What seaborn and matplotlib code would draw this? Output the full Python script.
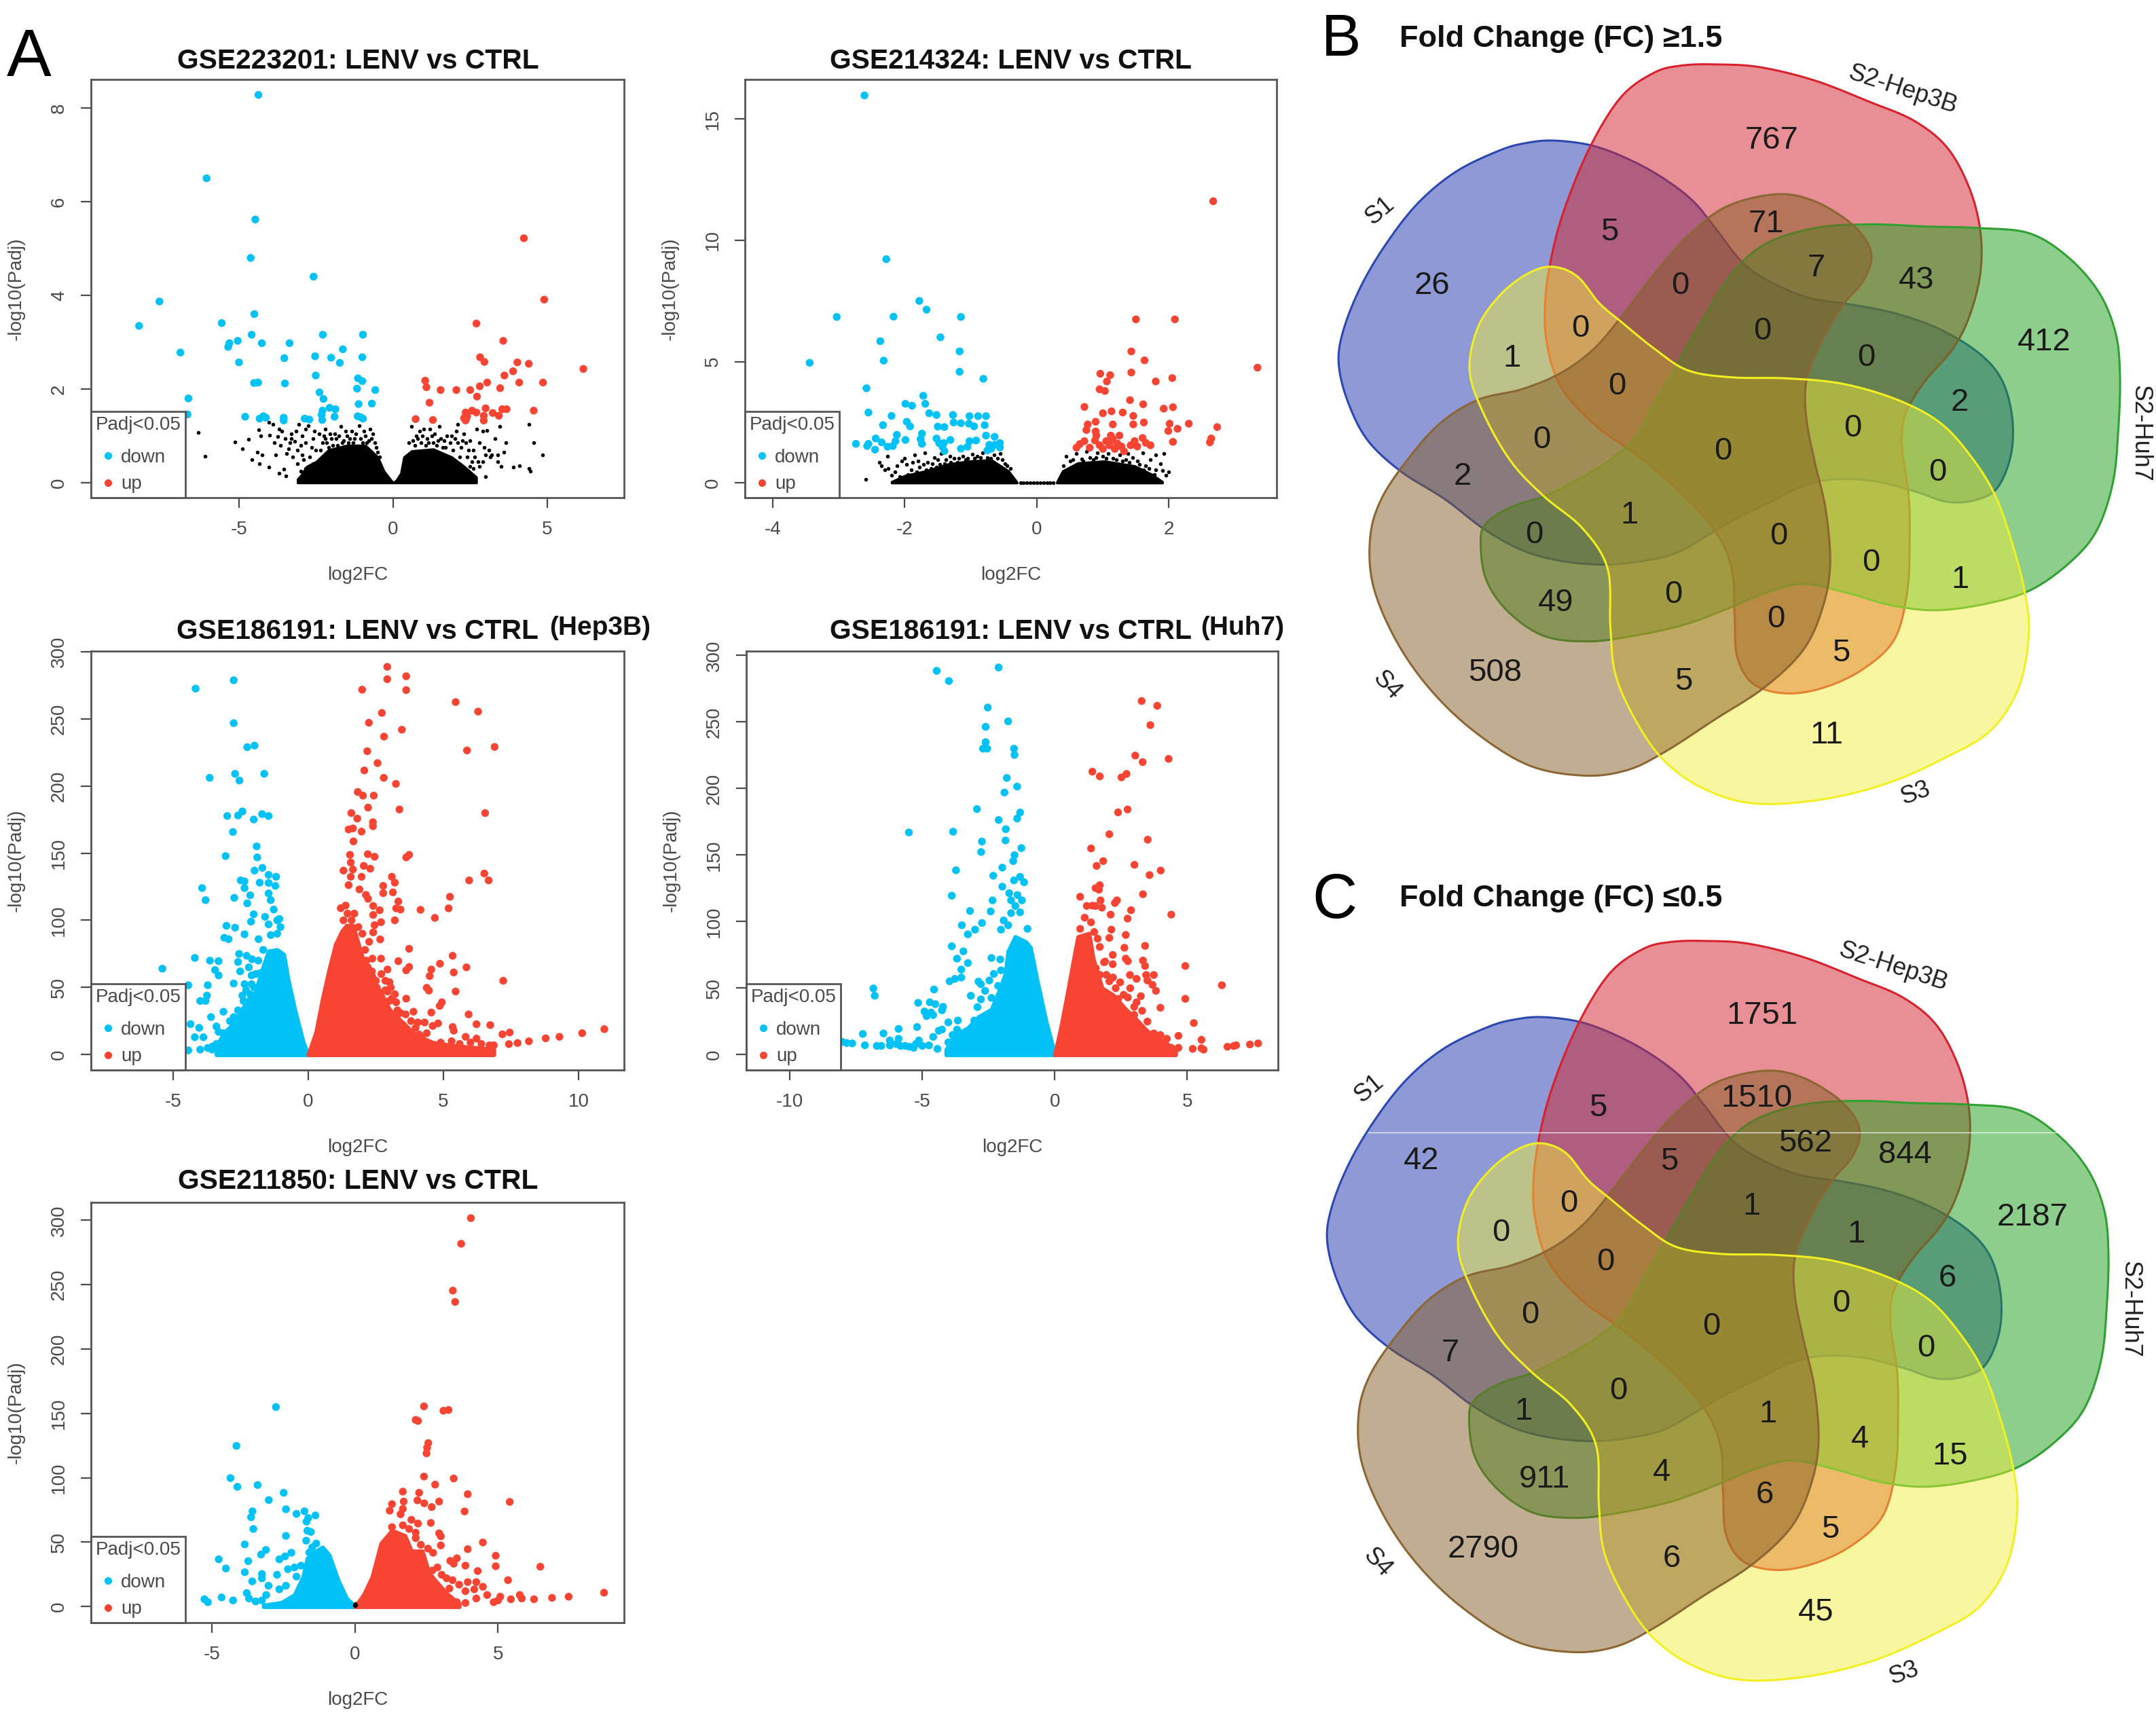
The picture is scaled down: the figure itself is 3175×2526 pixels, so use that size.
import numpy as np
import pandas as pd
import matplotlib
matplotlib.use("Agg")
import matplotlib.pyplot as plt
from matplotlib.lines import Line2D
import seaborn as sns

W, H = 3175, 2526
sns.set_theme(style="white")
plt.rcParams["font.family"] = ["Liberation Sans", "DejaVu Sans"]
plt.rcParams["axes.unicode_minus"] = False

BLUE, RED, BLACK = "#00C2F7", "#F84433", "#000000"
GREY = "#4a4a4a"

# ---------- Panel A data: (log2FC, -log10 Padj) ----------
P1_DOWN = [(-4.37,8.28),(-6.05,6.5),(-4.47,5.62),(-4.62,4.8),(-2.58,4.4),(-7.58,3.87),(-8.24,3.35),(-4.5,3.6),(-5.56,3.41),(-4.59,3.16),(-2.28,3.16),(-0.98,3.16),(-5.04,3.03),(-5.31,2.98),(-5.35,2.9),(-4.26,2.98),(-3.36,2.98),(-1.63,2.85),(-6.9,2.78),(-2.53,2.7),(-3.53,2.66),(-2.01,2.67),(-1.0,2.68),(-1.73,2.56),(-5.0,2.57),(-2.51,2.29),(-4.51,2.13),(-4.38,2.14),(-3.51,2.12),(-1.14,2.23),(-1.0,2.17),(-1.17,2.01),(-0.58,1.98),(-2.39,1.93),(-2.26,1.79),(-6.64,1.8),(-0.69,1.69),(-1.12,1.68),(-6.67,1.46),(-2.06,1.6),(-2.29,1.54),(-1.87,1.57),(-2.32,1.45),(-1.9,1.41),(-4.8,1.41),(-4.21,1.42),(-4.33,1.37),(-4.13,1.39),(-3.55,1.39),(-3.55,1.33),(-2.87,1.37),(-2.72,1.35),(-2.3,1.34),(-1.15,1.42),(-0.98,1.37),(-1.05,1.4)]
P1_UP = [(4.24,5.22),(4.9,3.91),(2.7,3.4),(3.57,3.03),(2.82,2.68),(2.96,2.58),(6.17,2.43),(4.03,2.57),(4.4,2.54),(3.89,2.38),(3.61,2.29),(1.04,2.18),(1.08,2.04),(3.05,2.14),(2.81,2.06),(4.09,2.14),(4.86,2.14),(3.47,2.02),(1.54,1.98),(2.05,1.98),(2.5,1.98),(2.72,1.84),(1.18,1.71),(3.0,1.59),(3.54,1.57),(3.68,1.57),(4.56,1.54),(2.56,1.54),(2.35,1.5),(2.7,1.5),(3.23,1.49),(3.43,1.43),(2.94,1.43),(2.37,1.37),(2.35,1.33),(1.29,1.34),(0.73,1.36),(2.94,1.33),(2.4,1.42),(2.3,1.38)]
P1_NS = [(-6.32,1.07),(-6.1,.57),(-5.13,.87),(-4.89,.73),(-4.68,.93),(-4.35,1.13),(-4.3,1.0),(-4.04,1.29),(-3.9,1.25),(-4.4,.65),(-4.25,.6),(-4.58,.49),(-4.33,.41),(-4.04,.33),(-3.69,.21),(-3.55,.29),(-3.48,.14),(-4.0,1.02),(-3.85,.85),(-3.7,1.15),(-3.65,.8),(-3.5,.95),(-3.4,.72),(-3.3,1.05),(-3.2,.88),(-3.1,.7),(-3.05,1.25),(-2.95,1.0),(-2.85,.85),(-2.75,1.22),(-2.7,.55),(-2.6,.95),(-2.5,.7),(-2.4,1.05),(-2.3,.85),(-2.2,1.15),(-2.1,.75),(-2.0,.95),(-1.9,1.05),(-1.8,.8),(-1.6,.9),(-1.5,1.0),(-1.35,1.1),(-1.25,.95),(-1.1,1.22),(-0.95,1.1),(-0.8,.9),(-0.75,1.15),(-3.1,.4),(-3,.25),(-2.85,.3),(-2.75,.15),(-3.25,.55),(-3.45,.62),(-3.8,.6),(-2.45,.45),(-2.95,.6),(-2.6,.4),(-1.7,1.2),(-1.45,.85),(-1.05,.95),(-0.7,.95),(-0.6,.85),(-2.2,.95),(-3.6,1.1),(-2.85,1.15),(-3.35,.85),(-3.75,.98),
 (-3.3,.95),(-3.15,1.1),(-3.0,.8),(-2.9,.5),(-2.65,.75),(-2.55,1.1),(-2.35,.7),(-2.25,1.0),(-2.15,.85),(-2.05,1.05),(-1.95,.8),(-1.85,.95),(-1.75,1.0),(-1.65,.85),(-1.55,1.1),(-1.4,.95),(-1.3,.85),(-1.2,1.05),(-1.0,.85),(-.9,1.0),(-.85,.85),(-.65,1.05),(-.55,.75),(-.5,.65),(-.45,.55),
 (.6,1.2),(.75,1.0),(.9,.85),(1,1.15),(1.1,.95),(1.25,1.0),(1.4,.8),(1.5,1.2),(1.6,.75),(1.75,1.0),(1.85,.85),(2,.95),(2.1,1.25),(2.2,.75),(2.3,1.05),(2.4,.55),(2.5,.9),(2.6,.7),(2.7,1.15),(2.8,.85),(2.9,1.1),(3,.6),(3.05,1.12),(3.1,.7),(3.2,.6),(3.3,.95),(3.4,.45),(3.5,.35),(3.6,.65),(3.65,.85),(3.45,1.2),(3.9,.33),(4.1,.37),(4.4,1.25),(4.55,.85),(4.85,.6),(4.4,.3),(4.45,.25),(3.0,.13),(2.6,.3),(2.8,.35),(2.3,.3),(.7,.8),(.85,1.1),(1.3,.85),(1.55,.95),(1.95,.7),(2.15,.55),(2.55,.45),(2.9,.45),(3.15,.55),(2.05,1.1),(1.2,1.15),(3.4,.6),(2.35,.85),
 (.5,.85),(.65,.9),(.8,.95),(.95,1.0),(1.05,.8),(1.15,.85),(1.35,1.05),(1.45,.9),(1.65,.9),(1.7,.75),(1.9,1.0),(2.1,.85),(2.25,.9),(2.45,.7),(2.65,.55),(2.75,.45),(2.95,.75),(2.5,.35)]
P1_MASS_L_X = [-3.1,-3,-2.8,-2.5,-2.1,-1.5,-.9,-.5,-.3,-.1,0]
P1_MASS_L_Y = [.08,.15,.35,.45,.7,.8,.8,.55,.25,.08,0]
P1_MASS_R_X = [0,.1,.25,.35,.6,1.3,1.9,2.3,2.7]
P1_MASS_R_Y = [0,.05,.2,.55,.68,.72,.55,.35,.12]

P2_DOWN = [(-2.61,15.97),(-2.28,9.22),(-1.78,7.5),(-1.67,7.14),(-3.03,6.84),(-2.17,6.85),(-1.15,6.84),(-1.46,6.0),(-2.37,5.84),(-1.17,5.42),(-2.32,5.04),(-3.44,4.95),(-1.17,4.58),(-.81,4.29),(-2.58,3.9),(-1.72,3.59),(-1.69,3.26),(-1.99,3.26),(-1.89,3.18),(-2.55,2.9),(-1.63,2.87),(-1.52,2.8),(-1.27,2.8),(-2.2,2.76),(-1.02,2.75),(-.89,2.75),(-.77,2.75),(-1.26,2.49),(-1.15,2.46),(-1.97,2.52),(-1.92,2.33),(-2.33,2.38),(-1.03,2.44),(-.95,2.33),(-.79,2.38),(-1.5,2.32),(-1.4,2.3),(-1.74,2.03),(-2.12,1.98),(-2.14,1.72),(-1.99,1.77),(-1.76,1.8),(-1.74,1.61),(-2.44,1.83),(-2.35,1.67),(-2.74,1.61),(-2.55,1.61),(-2.57,1.52),(-2.45,1.37),(-2.26,1.49),(-2.18,1.52),(-1.52,1.83),(-1.48,1.64),(-1.41,1.64),(-1.43,1.49),(-1.31,1.77),(-1.4,1.31),(-1.15,1.41),(-1.05,1.49),(-1.02,1.72),(-.92,1.75),(-.77,1.95),(-.64,1.9),(-.72,1.57),(-.69,1.41),(-.75,1.34),(-.56,1.64),(-.56,1.46),(-.64,1.57)]
P2_UP = [(2.67,11.61),(1.5,6.74),(2.09,6.74),(1.43,5.42),(1.63,5.05),(3.34,4.75),(.96,4.5),(1.11,4.44),(1.43,4.55),(2.05,4.32),(1.06,4.18),(1.8,4.18),(.95,3.86),(1.03,3.79),(1.41,3.41),(1.61,3.24),(.72,3.13),(1.92,3.06),(2.06,3.12),(1.13,2.95),(1.0,2.87),(1.3,2.9),(1.46,2.76),(.89,2.52),(.77,2.41),(1.15,2.41),(1.46,2.41),(1.62,2.49),(2.3,2.44),(2.01,2.44),(2.73,2.3),(2.13,2.23),(1.99,2.14),(.75,2.18),(.89,2.12),(.9,1.95),(1.12,1.95),(1.25,1.95),(2.64,1.83),(2.62,1.67),(2.06,1.69),(.6,1.45),(.65,1.6),(.72,1.72),(.8,1.45),(.88,1.75),(.95,1.55),(1.0,1.4),(1.05,1.72),(1.1,1.55),(1.15,1.8),(1.18,1.4),(1.22,1.62),(1.28,1.5),(1.32,1.3),(1.42,1.55),(1.48,1.72),(1.52,1.5),(1.6,1.85),(1.65,1.65),(1.72,1.55)]
P2_NS = [(-2.59,.15),(-2.38,.85),(-2.35,.7),(-2.3,.55),(-2.25,.6),(-2.26,1.1),(-2.2,.3),(-2.12,.7),(-2.05,.9),(-2.0,1.0),(-1.97,.75),(-1.9,.55),(-1.85,1.15),(-1.8,.9),(-1.78,.65),(-1.7,1.25),(-1.65,.85),(-1.6,.6),(-1.55,1.05),(-1.5,.95),(-1.45,1.2),(-1.4,.8),(-1.32,1.1),(-1.25,1.0),(-1.2,.85),(-1.12,1.1),(-1.05,1.0),(-.98,1.18),(-.9,1.1),(-.82,1.25),(-.75,1.05),(-.65,1.15),(-.55,1.2),(-.52,.95),(-.48,.8),(-.4,.6),
 (-2.15,.45),(-2.08,.25),(-1.95,.35),(-1.88,.85),(-1.82,.45),(-1.72,.75),(-1.68,.55),(-1.58,.8),(-1.52,.65),(-1.47,.75),(-1.38,.95),(-1.3,.85),(-1.18,1.0),(-1.08,.95),(-.95,1.02),(-.85,1.05),(-.7,1.02),(-.6,1.0),(-.45,.7),
 (-.25,0),(-.2,0),(-.15,0),(-.1,0),(-.05,0),(0,0),(.05,0),(.1,0),(.15,0),(.2,0),(.25,0),
 (.44,1.1),(.5,.9),(.6,1.2),(.68,.98),(.75,1.3),(.8,1.05),(.85,.95),(.92,1.25),(1.0,1.1),(1.08,1.2),(1.15,1.0),(1.25,1.15),(1.3,.9),(1.38,1.22),(1.45,1.05),(1.52,.9),(1.6,1.25),(1.65,.7),(1.72,.95),(1.8,1.15),(1.87,.8),(1.9,.5),(1.95,.3),(2.0,.45),(1.85,.1),(1.78,.35),(1.92,1.22),
 (.4,.7),(.55,.95),(.7,.9),(.9,1.05),(1.05,1.0),(1.2,.95),(1.35,.95),(1.4,.85),(1.55,.75),(1.62,.55),(1.7,.6),(1.8,.55),(1.75,.2)]
P2_MASS_L_X = [-2.2,-2,-1.67,-1.34,-1.02,-.69,-.43,-.3]
P2_MASS_L_Y = [.05,.3,.5,.78,.9,.95,.49,.02]
P2_MASS_R_X = [.3,.39,.62,1.02,1.48,1.74,1.9]
P2_MASS_R_Y = [.02,.49,.82,.9,.7,.35,.05]

P3_DOWN = [(-2.76,278.6),(-4.17,272.4),(-2.76,246.7),(-2.26,228.8),(-1.99,230),(-2.71,209),(-2.55,204),(-3.65,206),(-1.63,209),(-3,177.6),(-2.6,178),(-2.44,181),(-2.02,175),(-1.71,179),(-1.47,177.6),(-2.79,165.7),(-1.91,155),(-1.89,146.8),(-3.06,147.8),(-1.7,139),(-1.99,137),(-1.47,133.8),(-1.19,132.4),(-2.5,129.7),(-2.36,129),(-1.8,128),(-1.47,127.8),(-1.22,125.6),(-2.36,124),(-3.93,124),(-3.8,115),(-2.74,116.7),(-2.15,118.6),(-2.26,112.6),(-1.47,120),(-1.39,115),(-1.28,108),(-2.02,104.5),(-1.6,102.6),(-2.12,99),(-1.15,100),(-1.07,101),(-1.03,95),(-1.47,97),(-3.03,95.9),(-2.71,94.5),(-2.36,89.6),(-3.11,87),(-2.95,86),(-1.84,86),(-1.39,89),(-1.15,90),(-4.2,72),(-3.64,70),(-3.32,69.6),(-2.56,75),(-2.28,73.6),(-2.08,71),(-1.67,78),(-5.4,64),(-3.45,63),(-3.32,59),(-2.6,69),(-2.52,62),(-2.2,65),(-2.1,59),(-1.8,60.6),(-4.44,51.7),(-3.72,51.7),(-2.76,53),(-2.36,52.5),(-2.1,52.5),(-3.75,44),(-4,40),(-3.8,40),(-2.44,44),(-3.14,32),(-3.6,28),(-4.36,22.7),(-4.04,20),(-3.88,13),(-4.2,13),(-3.4,21),(-3.32,17),(-3.16,16),(-4.44,3.2),(-4,3.8),(-3.72,5),(-3.56,3.8),(-2.76,28),(-2.4,40),(-2.15,45),(-1.95,60),(-3.55,6),(-3.4,8),(-2.9,25),(-2.6,33),(-2.3,48),(-2.0,50),(-1.85,70)]
P3_UP = [(2.92,288.6),(3.62,281.6),(2.92,279.4),(3.62,271.3),(1.99,271.6),(5.45,262.4),(6.28,255.3),(2.72,254.3),(2.24,247),(3.46,241.8),(2.8,236.7),(6.89,229),(5.87,226.4),(2.18,225.8),(2.56,217),(2.07,211.5),(2.79,206),(3.24,201.5),(1.83,195.5),(2.02,192.8),(2.42,192.8),(2.21,183.9),(3.37,182.5),(6.54,179.8),(1.59,179.8),(1.81,175.7),(2.39,173),(2.39,170),(1.49,167.6),(1.65,168.4),(1.97,166),(1.67,158.7),(2.2,149.2),(2.45,147.3),(1.54,148.7),(3.73,148.7),(3.62,146.8),(1.57,143),(2.05,140.5),(2.29,138.4),(1.65,137.8),(1.3,137),(6.51,134.8),(5.95,129.7),(6.67,129.7),(3.09,132.4),(3.2,128),(1.57,132.4),(1.97,132.4),(1.49,126.2),(2.77,125.6),(2.77,120.2),(1.89,123),(2.13,118.9),(2.21,116),(3.13,120.8),(5.24,117.5),(3.33,114),(3.25,108.9),(3.41,108),(5.19,108.9),(4.15,107.8),(4.68,101.8),(2.64,107.5),(3.2,100),(2.4,110.7),(2.4,104),(2.69,98.6),(2.45,96.4),(2.4,91),(2.66,85.8),(3.73,78.8),(5.34,73.6),(4.87,67.7),(3.33,69.6),(3.73,65.3),(3.62,62.8),(5.85,65),(4.55,63.4),(4.49,58.5),(5.38,61.2),(7.21,55),(4.38,49.8),(4.46,47.7),(5.45,47),(4.94,39),(4.86,36.3),(3.62,41.7),(5.93,30),(4.55,31.4),(3.89,32),(6.22,22.7),(6.73,22),(5.34,20.6),(5.38,17.9),(4.05,24),(3.97,20),(4.38,16),(4.6,21.4),(4.8,23.3),(10.95,19),(10.13,16),(9.29,13.3),(8.78,12.2),(8.16,10),(7.74,8.7),(7.42,7.9),(7.18,15.2),(7.45,16.5),(6.7,7),(6.86,7),(6.22,12),(5.82,13.3),(2.37,71.5),(2.69,71.5),(2.93,63.4),(2.85,55),(3,54),(2.93,47),(3.09,41.7),(3.25,39),(2.37,58),(2.53,50),(3.41,31),(3.17,28),(4.2,12),(4.9,9),(5.3,10),(5.6,8),(6.0,9),(6.4,8),(2.1,78),(2.25,84),(2.0,90),(2.15,70),(3.0,40),(3.5,22),
 (1.3,100),(1.45,105),(1.6,100),(1.7,105),(1.85,95),(1.2,109),(1.38,111),(2.2,65),(2.35,62),(2.5,55),(2.7,60),(2.85,48),(3.05,50),(3.2,45),(3.3,33),(3.6,30),(3.8,25),(4.1,15),(4.3,24)]
P3_BLUE_X = [-3.4,-3.08,-2.76,-2.44,-2.2,-1.96,-1.71,-1.47,-1.15,-.91,-.75,-.51,-.19,0]
P3_BLUE_Y = [6.5,17,23,34,42,46,63,77,78,74.5,55.7,34,9,0]
P3_RED_X = [0,.29,.53,.77,1.01,1.25,1.41,1.65,1.81,1.97,2.21,2.69,3.0,3.41,3.97,4.6,5.4,6.2,6.86]
P3_RED_Y = [0,17,41.7,63,82,92,96,96,85,74,60.7,46,33.6,25.4,14.6,9,6.5,5.1,3.8]

P4_DOWN = [(-2.12,291),(-4.46,288.5),(-4,280.8),(-2.53,260.9),(-2.61,246.4),(-1.76,250.5),(-2.61,234.9),(-2.71,230),(-2.55,230),(-1.54,230),(-1.52,225.3),(-1.81,208),(-1.42,201.5),(-1.9,197),(-2.94,184.6),(-1.31,182),(-1.42,177.5),(-2.12,176.4),(-1.85,169.5),(-5.51,167),(-3.84,167.6),(-1.86,161),(-2.75,160.2),(-1.26,155.3),(-2.78,152.3),(-1.52,150),(-1.57,145.5),(-1.98,140.6),(-3.73,138.6),(-2.32,134.5),(-1.31,133.7),(-1.54,131),(-1.16,129.6),(-1.98,126.3),(-3.89,119.5),(-1.72,121.4),(-1.41,120),(-2.35,116),(-1.24,116),(-1.65,116),(-2.42,107.7),(-3.2,108),(-1.49,111.8),(-1.65,106.4),(-1.31,107),(-2.75,99),(-3.51,97.3),(-1.93,100.9),(-1.76,97.3),(-1.03,94.6),(-3.01,94),(-3.28,90.5),(-2.03,94),(-3.89,81.5),(-3.45,77.7),(-3.69,72.2),(-3.28,68.9),(-2.39,72.7),(-2.06,71.6),(-3.53,64),(-2.3,60.7),(-2.03,63.4),(-3.97,55.2),(-3.77,57),(-3.53,58),(-2.88,55),(-2.79,53),(-2.47,55.8),(-2.14,51.7),(-6.85,49.8),(-6.8,44.3),(-4.56,49),(-3.17,44.3),(-2.63,48),(-5.16,39),(-4.72,39.4),(-4.51,38),(-4.22,36),(-4.26,33.4),(-4.92,32.5),(-4.67,31.7),(-4.84,29),(-4.59,29.8),(-3.66,25.7),(-4.02,24.3),(-2.92,35.8),(-2.79,41.6),(-2.39,42.7),(-1.98,42),(-5.2,20.8),(-5.9,19.4),(-6.47,16),(-7.25,15.6),(-4.26,18.9),(-4.38,18),(-4.59,13.4),(-8.02,9.6),(-7.86,8.8),(-7.65,8.5),(-7.17,7.1),(-6.72,6.6),(-6.55,6.6),(-6.23,7),(-5.98,8),(-5.82,6.6),(-5.65,6.6),(-5.49,6),(-5.25,8),(-5.13,10.7),(-5,6.6),(-4.75,7),(-4.43,4.4),(-5.9,12),(-6.23,10.7),(-5.33,5.2),(-4.02,9.3),(-3.86,14.8),(-3.69,18.9),(-3.37,16),(-3.04,25.7)]
P4_UP = [(3.28,265.8),(3.87,262.2),(3.61,247.7),(3.04,224.8),(4.3,222.3),(3.32,219.9),(1.42,212.7),(1.7,209.2),(2.71,211),(2.52,208.4),(2.39,182.1),(2.75,184.3),(2.06,165.7),(3.51,161.6),(1.37,155),(1.83,145.5),(1.58,141.9),(3.01,142.7),(4.0,138.4),(3.58,135),(1.7,127.4),(1.54,125.2),(1.67,124),(3.33,120.6),(.96,118.7),(1.73,116),(2.35,116),(2.27,114),(1.21,111.8),(1.42,112),(1.54,111.8),(1.78,110.5),(2.88,108.6),(4.4,105.3),(2.11,105.3),(2.75,102.3),(1.13,103),(1.37,99.5),(.96,94.6),(2.14,94),(1.49,92.2),(2.68,90),(2.06,87.8),(1.62,87.2),(3.41,81.8),(2.63,80.4),(1.7,81),(2.19,75),(2.68,72.2),(2.76,70.3),(3.33,70.8),(3.41,66.7),(4.93,66.7),(1.86,69.5),(2.19,68),(3.74,59.9),(3.45,59.9),(2.84,59.9),(3.09,57),(3.5,55.8),(2.06,55.2),(2.47,54.4),(3.69,52.5),(6.31,52.2),(3.82,48),(4.93,42),(3.25,44),(2.76,43),(3.99,35.3),(3.09,39.4),(3.5,24.9),(5.25,23.8),(4.67,14.2),(5.54,11.2),(4.23,12),(3.99,14.8),(3.74,16),(4.67,5.2),(4.4,5.2),(5.21,4.4),(5.54,4.9),(5.62,3.8),(6.52,6),(6.76,6.6),(6.85,7.1),(7.37,7.7),(7.68,8.5),(3.2,20),(3.0,30),(2.6,45),(2.3,50),(1.95,60),(3.4,10),(3.7,8),(1.55,65),(1.7,60),(2.4,42),(2.85,50),(3.0,36),(3.3,33),(2.2,58),(1.9,70)]
P4_BLUE_X = [-4.1,-3.77,-3.28,-2.88,-2.39,-2.06,-1.86,-1.76,-1.49,-1.08,-.92,-.67,-.34,0]
P4_BLUE_Y = [3.8,14.8,20,28.4,34,50,61,77.7,88.6,84.5,80.4,55.8,25.7,0]
P4_RED_X = [0,.23,.47,.72,.88,1.29,1.45,1.78,2.19,2.68,3.0,3.5,4.15,4.56]
P4_RED_Y = [0,20,44.8,72,88.6,91,72,50,45,34,28,17.5,9.3,3.8]

P5_DOWN = [(-2.77,155),(-4.15,124.8),(-4.36,99.8),(-4.12,93),(-3.41,94.4),(-2.5,88.4),(-3.02,82.7),(-2.42,75.6),(-3.59,74),(-3.64,69.4),(-2.05,72),(-1.77,74),(-1.64,68.8),(-1.39,70.8),(-1.7,66),(-3.56,60.3),(-1.67,58.9),(-1.55,58),(-2.42,54.9),(-1.71,51.2),(-1.36,49),(-3.86,48.3),(-3.12,44),(-3.29,40.4),(-4.77,36.7),(-3.74,35.3),(-2.65,36.7),(-2.45,39),(-2.23,41.8),(-4.52,29.6),(-3.86,26.7),(-3.26,25.3),(-3.26,21.9),(-3.6,19.6),(-2.73,24.7),(-2.35,29),(-2.12,30.4),(-1.89,31.8),(-2.05,23.3),(-2.42,16.2),(-3.03,16.2),(-2.65,13.4),(-3.79,10.5),(-3.71,6.3),(-3.48,4),(-3.26,4.8),(-3.11,9),(-5.27,5.7),(-5.15,3.4),(-4.67,7.1),(-4.27,4.8),(-1.82,16),(-1.5,46),(-1.6,42)]
P5_UP = [(4.05,301.7),(3.71,281.8),(3.42,245.4),(3.5,236.6),(2.41,155.5),(3.27,152.7),(3.09,152.1),(2.12,145),(2.2,144.2),(2.56,127),(2.52,123.4),(2.5,119),(2.41,101),(3.45,99.5),(2.8,94.7),(1.67,89.3),(2.24,88.4),(3.94,87.3),(5.41,81.3),(1.7,81.6),(1.29,79.6),(2.18,82.5),(2.42,80.2),(2.94,81.6),(2.68,77.3),(1.21,74.5),(1.67,75.9),(3.83,73.9),(1.59,71.7),(1.97,67.4),(2.2,64.5),(2.65,65),(1.29,61.7),(1.67,63.1),(1.89,60.3),(2.12,57.4),(2.12,53.2),(2.94,56.9),(3.0,54.6),(3.0,47.5),(4.47,49.8),(3.94,44.6),(4.92,39.5),(4.92,31.3),(6.48,31),(3.33,35.5),(3.56,37.5),(3.45,33.3),(2.73,41.8),(3.86,31.8),(4.29,27.6),(2.88,30.4),(3.03,24.7),(5.35,20.5),(3.41,20.5),(3.64,17),(3.94,19),(4.24,19),(4.47,15.4),(4.17,13.4),(3.86,12),(4.62,9),(4.24,6.3),(3.86,2.8),(3.56,3.4),(4.85,3.4),(5.08,7.7),(5,4.8),(5.45,5.7),(5.76,9),(5.83,6.3),(6.26,5.7),(6.89,6.8),(7.47,7.7),(8.71,10.8),(2.7,28),(3.2,22),(3.3,14),(2.55,45),(2.3,48)]
P5_NS = [(0,.5),(0,2.5),(.03,1),(-.03,1)]
P5_BLUE_X = [-3.2,-2.58,-2.12,-1.82,-1.67,-1.44,-1.14,-.91,-.6,-.3,0]
P5_BLUE_Y = [1,3,9,23,37.5,42,46,40,20.5,6.3,0]
P5_RED_X = [0,.3,.6,.91,1.29,1.74,1.97,2.35,2.58,3.18,3.64]
P5_RED_Y = [0,9,23,49,59,55,43,43,26,10.5,2]

PANELS = [
 dict(title="GSE223201: LENV vs CTRL", box=(134,117,919,733), xlim=(-9.80,7.49), ylim=(-.318,8.61), xt=[-5,0,5], yt=[0,2,4,6,8],
      down=P1_DOWN, up=P1_UP, ns=P1_NS, title_xy=(527,90), fill=[(P1_MASS_L_X,P1_MASS_L_Y,BLACK),(P1_MASS_R_X,P1_MASS_R_Y,BLACK)]),
 dict(title="GSE214324: LENV vs CTRL", box=(1097,117,1880,733), xlim=(-4.42,3.63), ylim=(-.61,16.63), xt=[-4,-2,0,2], yt=[0,5,10,15],
      down=P2_DOWN, up=P2_UP, ns=P2_NS, title_xy=(1489,90), fill=[(P2_MASS_L_X,P2_MASS_L_Y,BLACK),(P2_MASS_R_X,P2_MASS_R_Y,BLACK)]),
 dict(title="GSE186191: LENV vs CTRL", box=(134,959,919,1576), xlim=(-8.04,11.68), ylim=(-11.4,300.3), xt=[-5,0,5,10], yt=[0,50,100,150,200,250,300],
      down=P3_DOWN, up=P3_UP, ns=[], title_xy=(527,930), fill=[(P3_BLUE_X,P3_BLUE_Y,BLUE),(P3_RED_X,P3_RED_Y,RED)]),
 dict(title="GSE186191: LENV vs CTRL", box=(1099,959,1882,1576), xlim=(-11.65,8.43), ylim=(-11.5,303.3), xt=[-10,-5,0,5], yt=[0,50,100,150,200,250,300],
      down=P4_DOWN, up=P4_UP, ns=[], title_xy=(1489,930), fill=[(P4_BLUE_X,P4_BLUE_Y,BLUE),(P4_RED_X,P4_RED_Y,RED)]),
 dict(title="GSE211850: LENV vs CTRL", box=(134,1771,919,2390), xlim=(-9.24,9.41), ylim=(-12.5,313.9), xt=[-5,0,5], yt=[0,50,100,150,200,250,300],
      down=P5_DOWN, up=P5_UP, ns=P5_NS, title_xy=(527,1740), fill=[(P5_BLUE_X,P5_BLUE_Y,BLUE),(P5_RED_X,P5_RED_Y,RED)]),
]
EXTRA_TITLES = [("(Hep3B)", 884, 925), ("(Huh7)", 1830, 925)]
LEGEND_TITLE = "Padj<0.05"
LEGEND_LABELS = ["down", "up"]
TITLE_PT = 29.3
LABEL_PT = 20

fig = plt.figure(figsize=(W/100, H/100), dpi=100, facecolor="white")

def fx(px): return px / W
def fy(py): return 1 - py / H

for p in PANELS:
    x0, y0, x1, y1 = p["box"]
    ax = fig.add_axes([fx(x0), fy(y1), (x1-x0)/W, (y1-y0)/H])
    for fx_, fy_, col in p["fill"]:
        ax.fill_between(fx_, 0, fy_, facecolor=col, edgecolor=col, linewidth=2.4 if col == BLACK else 4.5, joinstyle="round", zorder=1)
    if p["ns"]:
        d = pd.DataFrame(p["ns"], columns=["log2FC", "padj"])
        sns.scatterplot(data=d, x="log2FC", y="padj", color=BLACK, s=16, linewidth=0, ax=ax, legend=False, zorder=2)
    d = pd.DataFrame(p["down"] + p["up"], columns=["log2FC", "padj"])
    d["group"] = ["down"]*len(p["down"]) + ["up"]*len(p["up"])
    sns.scatterplot(data=d, x="log2FC", y="padj", hue="group", palette={"down":BLUE,"up":RED},
                    s=68, linewidth=0, ax=ax, legend=False, zorder=3)
    ax.set_xlim(*p["xlim"]); ax.set_ylim(*p["ylim"])
    ax.set_xticks(p["xt"]); ax.set_yticks(p["yt"])
    ax.tick_params(axis="both", length=10.5, width=1.6, color=GREY, labelcolor=GREY, labelsize=LABEL_PT, pad=14, bottom=True, left=True)
    plt.setp(ax.get_yticklabels(), rotation=90, va="center")
    for s in ax.spines.values():
        s.set_color("#555555"); s.set_linewidth(2.0); s.set_visible(True)
    ax.set_xlabel("log2FC", fontsize=LABEL_PT, color=GREY, va="center")
    ax.set_ylabel("-log10(Padj)", fontsize=LABEL_PT, color=GREY, va="center")
    ax.xaxis.set_label_coords(.5, -(114)/(y1-y0))
    ax.yaxis.set_label_coords(-(110)/(x1-x0), .5)
    handles = [Line2D([], [], marker="o", ls="", color=c, markersize=8, markeredgewidth=0) for c in (BLUE, RED)]
    leg = ax.legend(handles, LEGEND_LABELS, title=LEGEND_TITLE, loc="lower left", bbox_to_anchor=(0, 0), borderaxespad=0,
                    fancybox=False, framealpha=1, edgecolor="#555555", fontsize=LABEL_PT, title_fontsize=LABEL_PT,
                    labelcolor=GREY, alignment="left", borderpad=.24, labelspacing=.48, handletextpad=.0, handlelength=1.35)
    leg._legend_box.sep = 16
    leg.get_frame().set_linewidth(2.0)
    leg.get_title().set_color(GREY)
    fig.text(fx(p["title_xy"][0]), fy(p["title_xy"][1]), p["title"], ha="center", va="center", fontsize=TITLE_PT, fontweight="bold", color="#111111")

for txt, px, py in EXTRA_TITLES:
    fig.text(fx(px), fy(py), txt, ha="center", va="center", fontsize=28, color="#111111", fontweight="bold")

# ---------- Venn panels ----------
S1_OUT = [(480,262),(550,272),(620,300),(680,335),(730,375),(770,425),(820,490),(870,525),(940,555),(1020,568),(1100,585),(1180,615),(1250,660),(1290,710),(1308,780),(1305,850),(1280,910),(1240,932),(1190,935),(1130,915),(1060,897),(990,893),(930,905),(870,935),(810,965),(760,995),(700,1030),(640,1045),(570,1052),(490,1045),(420,1025),(350,985),(280,930),(200,878),(140,820),(105,750),(88,680),(95,620),(125,540),(170,460),(230,380),(300,320),(380,280),(430,266)]
S2H_OUT = [(770,120),(850,125),(950,150),(1050,190),(1130,225),(1190,275),(1230,350),(1250,430),(1250,510),(1230,590),(1200,650),(1150,710),(1115,770),(1108,830),(1120,920),(1122,1000),(1118,1100),(1095,1190),(1040,1245),(970,1280),(900,1292),(840,1275),(810,1225),(805,1150),(800,1060),(770,990),(710,920),(630,850),(550,790),(490,720),(465,640),(462,560),(475,470),(500,380),(545,270),(600,180),(660,135),(710,122)]
S2U_OUT = [(1050,418),(1150,422),(1250,425),(1340,435),(1410,480),(1465,545),(1495,620),(1503,700),(1500,800),(1490,900),(1460,990),(1410,1050),(1340,1100),(1260,1125),(1170,1137),(1090,1128),(1010,1105),(930,1088),(860,1105),(790,1135),(710,1165),(620,1185),(540,1195),(460,1185),(395,1140),(355,1080),(345,1010),(355,975),(400,945),(470,920),(560,870),(620,820),(660,750),(700,680),(750,590),(800,510),(860,455),(950,425)]
S3_OUT = [(475,497),(520,515),(560,565),(600,600),(660,650),(720,690),(800,703),(900,705),(1000,715),(1100,745),(1180,790),(1240,860),(1280,930),(1310,1020),(1330,1100),(1338,1180),(1320,1280),(1270,1360),(1190,1410),(1080,1460),(960,1490),(840,1497),(750,1470),(680,1420),(630,1350),(590,1260),(580,1170),(575,1060),(530,985),(460,925),(400,860),(350,770),(325,690),(340,610),(380,550),(430,510)]
S4_OUT = [(880,362),(950,375),(1020,420),(1052,470),(1040,520),(1000,570),(960,640),(935,710),(935,780),(950,860),(970,950),(978,1050),(965,1130),(930,1210),(860,1280),(770,1340),(680,1400),(610,1435),(530,1445),(430,1425),(330,1360),(250,1280),(190,1190),(150,1090),(145,1000),(165,930),(210,860),(270,790),(340,745),(420,725),(490,695),(550,650),(600,590),(660,510),(720,440),(790,385)]
# fill and edge colours of each set
S1_STYLE = ((0.24,0.31,0.72,.58), (0.17,0.28,0.69))
S2H_STYLE = ((0.82,0.16,0.20,.52), (0.85,0.13,0.18))
S2U_STYLE = ((0.14,0.63,0.14,.52), (0.18,0.63,0.19))
S3_STYLE = ((0.95,0.93,0.22,.48), (0.95,0.94,0.13))
S4_STYLE = ((0.52,0.36,0.14,.5), (0.55,0.40,0.2))

B_COUNTS = ["767","5","71","26","7","43","0","0","0","412","1","0","0","2","0","0","0","0","2","1","0","0","0","1","0","49","0","5","5","508","11"]
B_POS = [(872,257),(578,428),(862,412),(257,527),(953,495),(1134,517),(707,528),(526,607),(855,612),(1365,633),(402,663),(1044,661),(592,715),(1212,745),(455,815),(1019,793),(784,836),(1172,875),(312,883),(615,955),(442,992),(885,994),(1052,1044),(1214,1075),(694,1103),(481,1118),(880,1149),(998,1212),(712,1265),(371,1248),(971,1365)]
C_COUNTS = ["1751","5","1510","42","562","844","5","0","1","2187","0","1","0","6","0","0","0","0","7","0","1","1","4","15","4","911","6","5","6","2790","45"]
C_POS = [(855,288),(558,457),(845,440),(237,553),(933,522),(1113,543),(687,555),(505,632),(836,636),(1345,657),(382,685),(1025,687),(571,738),(1190,768),(435,835),(998,814),(763,856),(1152,895),(290,904),(595,973),(423,1011),(865,1016),(1032,1062),(1195,1092),(673,1122),(460,1135),(860,1163),(978,1226),(691,1279),(350,1262),(952,1377)]
SET_NAMES = ["S2-Hep3B","S1","S2-Huh7","S3","S4"]
NAME_ROT = [-18,40,-90,20,-47]
B_NAME_POS = [(1110,167),(162,393),(1540,808),(1133,1478),(175,1277)]
C_NAME_POS = [(1092,203),(143,425),(1522,828),(1112,1492),(158,1290)]

def smooth(pts, n=14):
    P = np.array(pts, float)
    out = []
    for i in range(len(P)):
        p0, p1, p2, p3 = P[i-1], P[i], P[(i+1) % len(P)], P[(i+2) % len(P)]
        for t in np.linspace(0, 1, n, endpoint=False):
            out.append(.5*((2*p1) + (p2-p0)*t + (2*p0-5*p1+4*p2-p3)*t**2 + (3*p1-p0-3*p2+p3)*t**3))
    return np.array(out)

ov = fig.add_axes([0, 0, 1, 1], zorder=5)
ov.set_xlim(0, W); ov.set_ylim(H, 0); ov.axis("off"); ov.patch.set_alpha(0)

def bx(z): return 1900 + z/1.23
def by(z): return z/1.265
def cx(z): return 1900 + z/1.23
def cy(z): return 1260 + z/1.2385

for dx, dy in [(0, 0), (-17, 1291)]:
    # blue, red and green outlines sink under the later fills; brown and yellow outlines stay on top
    for pts, (fc, ec) in [(S1_OUT, S1_STYLE), (S2H_OUT, S2H_STYLE), (S2U_OUT, S2U_STYLE)]:
        s = smooth(pts)
        ov.fill(bx(s[:,0])+dx, by(s[:,1])+dy, facecolor=fc, edgecolor=ec, linewidth=2.2)
    for pts, (fc, ec) in [(S3_OUT, S3_STYLE), (S4_OUT, S4_STYLE)]:
        s = smooth(pts)
        ov.fill(bx(s[:,0])+dx, by(s[:,1])+dy, facecolor=fc, edgecolor="none", linewidth=0)
    for pts, (fc, ec) in [(S4_OUT, S4_STYLE), (S3_OUT, S3_STYLE)]:
        s = smooth(pts)
        ov.fill(bx(s[:,0])+dx, by(s[:,1])+dy, facecolor="none", edgecolor=ec, linewidth=2.2)

for txt, (zx, zy) in zip(B_COUNTS, B_POS):
    ov.text(bx(zx), by(zy)+4, txt, ha="center", va="center", fontsize=34, color="#1a1a1a")
for txt, (zx, zy) in zip(C_COUNTS, C_POS):
    ov.text(cx(zx), cy(zy)+3, txt, ha="center", va="center", fontsize=34, color="#1a1a1a")
for name, rot, (zx, zy) in zip(SET_NAMES, NAME_ROT, B_NAME_POS):
    ov.text(bx(zx), by(zy), name, rotation=rot, rotation_mode="anchor", ha="center", va="center", fontsize=26, color="#222222")
for name, rot, (zx, zy) in zip(SET_NAMES, NAME_ROT, C_NAME_POS):
    ov.text(cx(zx), cy(zy), name, rotation=rot, rotation_mode="anchor", ha="center", va="center", fontsize=26, color="#222222")

ov.plot([2014, 3030], [1668, 1668], color="white", lw=1.0, alpha=.8)

ov.text(2061, 58, "Fold Change (FC) ≥1.5", ha="left", va="center", fontsize=32.5, fontweight="bold", color="#111111")
ov.text(2061, 1323, "Fold Change (FC) ≤0.5", ha="left", va="center", fontsize=32.5, fontweight="bold", color="#111111")
ov.text(43, 87, "A", ha="center", va="center", fontsize=71, color="#000000")
ov.text(1975, 60, "B", ha="center", va="center", fontsize=63, color="#000000")
ov.text(1965, 1328, "C", ha="center", va="center", fontsize=66, color="#000000")

fig.savefig("out.png", dpi=100, facecolor="white")
